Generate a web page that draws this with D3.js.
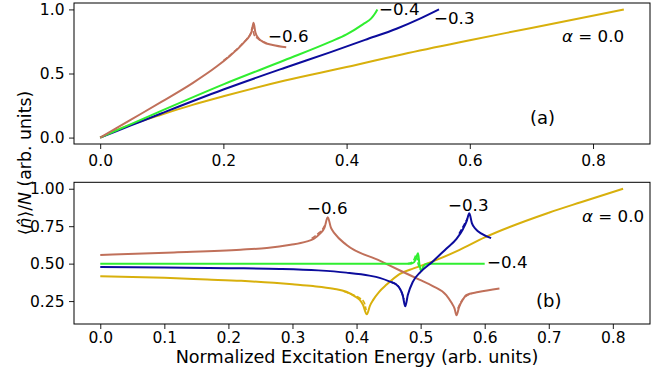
<!DOCTYPE html>
<html>
<head>
<meta charset="utf-8">
<script src="https://cdn.jsdelivr.net/npm/d3@7"></script>
<style>
  body { margin: 0; background: #fff; }
  text { font-family: "DejaVu Sans", sans-serif; }
</style>
</head>
<body>
<script>
// panel (a): [energy, value] pairs
const topGold  = [[0,0],[0.02,0.045],[0.05,0.1],[0.1,0.18],[0.15,0.255],[0.2,0.322],[0.3,0.445],[0.4,0.55],[0.5,0.66],[0.6,0.76],[0.7,0.855],[0.85,1.0]]
const topBlue  = [[0,0],[0.05,0.095],[0.1,0.19],[0.2,0.375],[0.3,0.545],[0.373,0.665],[0.43,0.762],[0.482,0.851],[0.52,0.93],[0.55,1.0]]
const topGreen = [[0,0],[0.05,0.105],[0.1,0.21],[0.2,0.415],[0.3,0.605],[0.373,0.747],[0.4,0.805],[0.427,0.885],[0.44,0.93],[0.445,0.96],[0.45,1.0]]
const topBrown = [[0,0],[0.05,0.14],[0.1,0.28],[0.15,0.425],[0.189,0.554],[0.21,0.635],[0.225,0.7],[0.235,0.75],[0.242,0.79],[0.246,0.83],[0.249,0.895],[0.252,0.82],[0.257,0.775],[0.265,0.745],[0.28,0.722],[0.302,0.705]]
const topBrownDash = [[0.2,0.6],[0.225,0.705],[0.238,0.77],[0.244,0.81],[0.247,0.86],[0.25,0.8],[0.256,0.772],[0.27,0.738]]

// panel (b)
const botGold  = [[0,0.416],[0.1,0.405],[0.167,0.394],[0.22,0.385],[0.271,0.372],[0.3,0.362],[0.332,0.35],[0.364,0.332],[0.384,0.312],[0.398,0.28],[0.405,0.258],[0.41,0.225],[0.416,0.162],[0.421,0.22],[0.426,0.258],[0.435,0.31],[0.447,0.36],[0.467,0.43],[0.49,0.47],[0.519,0.515],[0.56,0.59],[0.6,0.675],[0.7,0.84],[0.75,0.91],[0.816,1.0]]
const botBlue  = [[0,0.477],[0.1,0.475],[0.2,0.47],[0.28,0.465],[0.34,0.455],[0.384,0.44],[0.42,0.42],[0.436,0.405],[0.452,0.38],[0.462,0.36],[0.468,0.33],[0.472,0.29],[0.476,0.215],[0.48,0.29],[0.488,0.38],[0.5,0.445],[0.519,0.515],[0.54,0.6],[0.556,0.665],[0.566,0.73],[0.572,0.785],[0.576,0.836],[0.58,0.77],[0.586,0.73],[0.595,0.7],[0.61,0.67]]
const botGreen = [[0,0.5],[0.485,0.5],[0.49,0.51],[0.494,0.55],[0.496,0.57],[0.498,0.5],[0.501,0.449],[0.504,0.48],[0.51,0.5],[0.6,0.5]]
const botBrown = [[0,0.558],[0.115,0.575],[0.219,0.593],[0.26,0.605],[0.297,0.626],[0.32,0.645],[0.333,0.665],[0.343,0.7],[0.35,0.74],[0.355,0.81],[0.36,0.74],[0.366,0.7],[0.384,0.626],[0.436,0.52],[0.467,0.456],[0.498,0.393],[0.519,0.35],[0.54,0.29],[0.548,0.24],[0.553,0.2],[0.556,0.155],[0.56,0.21],[0.566,0.26],[0.571,0.29],[0.59,0.31],[0.623,0.334]]
// dashed companions, only where they part from the solid curves
const botGoldDash   = [[0.38,0.316],[0.395,0.29],[0.405,0.27],[0.412,0.24],[0.415,0.19]]
const botBlueDashA  = [[0.455,0.375],[0.465,0.35],[0.471,0.3],[0.474,0.26]]
const botBlueDashB  = [[0.56,0.7],[0.568,0.76],[0.573,0.8]]
const botGreenDash  = [[0.48,0.5],[0.487,0.51],[0.491,0.54],[0.493,0.56],[0.496,0.5],[0.5,0.46]]
const botBrownDashA = [[0.33,0.668],[0.34,0.7],[0.347,0.73],[0.352,0.77]]
const botBrownDashB = [[0.558,0.2],[0.563,0.245],[0.57,0.28],[0.58,0.3]]

const xTicksTop = [0, 0.2, 0.4, 0.6, 0.8]
const yTicksTop = [0, 0.5, 1.0]
const xTicksBot = [0, 0.1, 0.2, 0.3, 0.4, 0.5, 0.6, 0.7, 0.8]
const yTicksBot = [0.25, 0.5, 0.75, 1.0]

const colors = { gold: '#d8b00c', blue: '#0c0c9c', green: '#30ee30', brown: '#c0705a' }

const m = { width: 657, height: 377 }

const svg = d3.select('body').append('svg')
    .attr('width', m.width)
    .attr('height', m.height)

function panel(box, xDom, yDom, xTicks, yTicks, xFmt, yFmt, xPad) {
    const x = d3.scaleLinear().domain(xDom).range([box.left, box.right])
    const y = d3.scaleLinear().domain(yDom).range([box.bottom, box.top])
    const g = svg.append('g')

    const xAxis = g.append('g')
        .attr('transform', `translate(0,${box.bottom})`)
        .call(d3.axisBottom(x).tickValues(xTicks).tickFormat(d3.format(xFmt)).tickSize(5).tickPadding(xPad))
    const yAxis = g.append('g')
        .attr('transform', `translate(${box.left},0)`)
        .call(d3.axisLeft(y).tickValues(yTicks).tickFormat(d3.format(yFmt)).tickSize(5).tickPadding(4.5))
    ;[xAxis, yAxis].forEach(a => {
        a.select('.domain').remove()
        a.selectAll('text').attr('font-size', 15.5).attr('fill', '#000')
            .attr('font-family', 'DejaVu Sans')
        a.selectAll('line').attr('stroke', '#000').attr('stroke-width', 0.9)
    })

    g.append('rect')
        .attr('x', box.left).attr('y', box.top)
        .attr('width', box.right - box.left).attr('height', box.bottom - box.top)
        .attr('fill', 'none').attr('stroke', '#000').attr('stroke-width', 1)

    const line = d3.line().x(d => x(d[0])).y(d => y(d[1]))
    const smooth = d3.line().x(d => x(d[0])).y(d => y(d[1])).curve(d3.curveMonotoneX)
    return { g, x, y, line, smooth }
}

function draw(p, data, color, dashed) {
    p.g.append('path')
        .datum(data)
        .attr('d', p.smooth)
        .attr('fill', 'none')
        .attr('stroke', color)
        .attr('stroke-width', dashed ? 1.6 : 2)
        .attr('stroke-dasharray', dashed ? '5,2' : null)
        .attr('stroke-linejoin', 'round')
}

function label(x, y, str, size) {
    svg.append('text')
        .attr('x', x).attr('y', y)
        .attr('font-size', size || 16.7)
        .text(str)
}

function alphaLabel(x, y) {
    const t = svg.append('text').attr('x', x).attr('y', y).attr('font-size', 16.7)
    t.append('tspan').attr('font-style', 'italic').text('α')
    t.append('tspan').text(' = 0.0')
}

// (a)
const pa = panel({ left: 74, right: 650, top: 3, bottom: 144 },
    [-0.0425, 0.8925], [-0.05, 1.05], xTicksTop, yTicksTop, '.1f', '.1f', 6)
draw(pa, topGold, colors.gold)
draw(pa, topBlue, colors.blue)
draw(pa, topGreen, colors.green)
draw(pa, topBrownDash, colors.brown, true)
draw(pa, topBrown, colors.brown)

label(268, 42, '\u22120.6')
label(379, 15, '\u22120.4')
label(434, 24, '\u22120.3')
alphaLabel(562, 42)
label(530, 124, '(a)', 18)

// (b)
const pb = panel({ left: 74, right: 650, top: 182.3, bottom: 324 },
    [-0.041, 0.858], [0.097, 1.043], xTicksBot, yTicksBot, '.1f', '.2f', 2.5)
draw(pb, botGoldDash, colors.gold, true)
draw(pb, botGold, colors.gold)
draw(pb, botBrownDashA, colors.brown, true)
draw(pb, botBrownDashB, colors.brown, true)
draw(pb, botBrown, colors.brown)
draw(pb, botGreenDash, colors.green, true)
draw(pb, botGreen, colors.green)
draw(pb, botBlueDashA, colors.blue, true)
draw(pb, botBlueDashB, colors.blue, true)
draw(pb, botBlue, colors.blue)

label(307, 214, '\u22120.6')
label(448, 211, '\u22120.3')
label(487, 267.5, '\u22120.4')
alphaLabel(582, 222)
label(536, 307, '(b)', 18)

// shared axis titles
svg.append('text')
    .attr('x', 357).attr('y', 363)
    .attr('text-anchor', 'middle')
    .attr('font-size', 17.6)
    .text('Normalized Excitation Energy (arb. units)')

const yl = svg.append('text')
    .attr('transform', 'translate(31,163) rotate(-90)')
    .attr('text-anchor', 'middle')
    .attr('font-size', 17.3)
yl.append('tspan').text('\u27E8')
yl.append('tspan').attr('font-style', 'italic').text('n\u0302')
yl.append('tspan').text('\u27E9/')
yl.append('tspan').attr('font-style', 'italic').text('N')
yl.append('tspan').text(' (arb. units)')
</script>
</body>
</html>
